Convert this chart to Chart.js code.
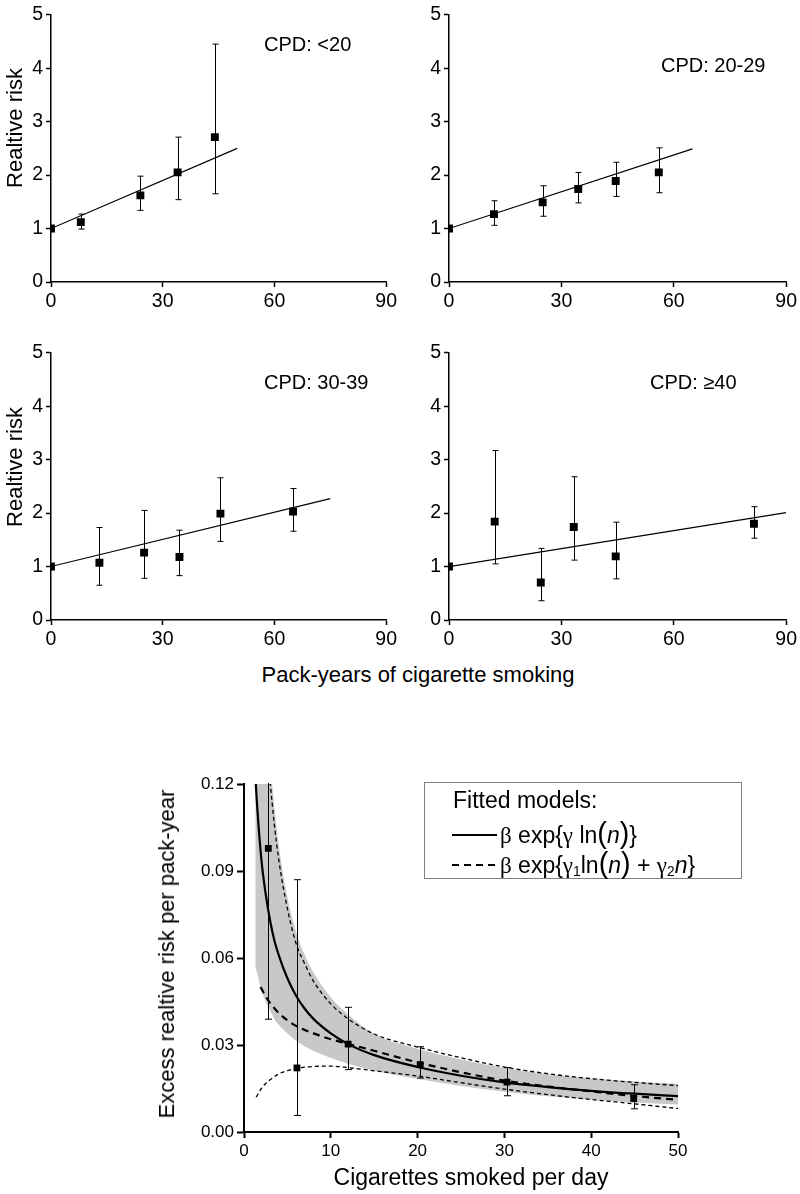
<!DOCTYPE html>
<html>
<head>
<meta charset="utf-8">
<title>Relative risk by pack-years and cigarettes per day</title>
<script src="https://cdn.jsdelivr.net/npm/chart.js"></script>
<style>
  body { margin: 0; background: #fff; }
  #page { position: relative; width: 800px; height: 1194px; font-family: "Liberation Sans", Arial, sans-serif; color: #000; }
  canvas { position: absolute; }
  .lbl { position: absolute; white-space: nowrap; }
  .cpd { font-size: 20px; line-height: 20px; }
  .vtitle { transform: translate(-50%, -50%) rotate(-90deg); }
  .htitle { transform: translate(-50%, -50%); }
  .gr { font-family: "Liberation Serif", "DejaVu Serif", serif; }
  .par { font-size: 1.25em; line-height: 0; }
  #legend { position: absolute; left: 424px; top: 782px; width: 316px; height: 95px; border: 1.5px solid #808080; background: #fff; font-size: 23px; }
  #legend .row { position: absolute; white-space: nowrap; line-height: 23px; }
  .swatch { position: absolute; height: 2px; width: 45px; background: #000; }
  .swatch.dash { background: repeating-linear-gradient(to right, #000 0 7px, transparent 7px 12px); }
  sub { font-size: 0.6em; vertical-align: -0.25em; line-height: 0; }
</style>
</head>
<body>
<div id="page">
  <canvas id="p1" width="400" height="310" style="left:0;top:0"></canvas>
  <canvas id="p2" width="400" height="310" style="left:400px;top:0"></canvas>
  <canvas id="p3" width="400" height="310" style="left:0;top:338px"></canvas>
  <canvas id="p4" width="400" height="310" style="left:400px;top:338px"></canvas>
  <canvas id="bottom" width="800" height="434" style="left:0;top:760px"></canvas>

  <div class="lbl cpd" id="t1" style="left:264px;top:34px"></div>
  <div class="lbl cpd" id="t2" style="left:661px;top:55px"></div>
  <div class="lbl cpd" id="t3" style="left:264px;top:372px"></div>
  <div class="lbl cpd" id="t4" style="left:650px;top:372px"></div>

  <div class="lbl vtitle" style="left:15px;top:128px;font-size:22px">Realtive risk</div>
  <div class="lbl vtitle" style="left:15px;top:467px;font-size:22px">Realtive risk</div>
  <div class="lbl htitle" style="left:418px;top:675px;font-size:22px">Pack-years of cigarette smoking</div>

  <div class="lbl vtitle" style="left:167px;top:954px;font-size:22px">Excess realtive risk per pack-year</div>
  <div class="lbl htitle" style="left:471px;top:1177px;font-size:23px">Cigarettes smoked per day</div>

  <div id="legend">
    <div class="row" style="left:28px;top:6px">Fitted models:</div>
    <span class="swatch" style="left:27px;top:51px"></span>
    <div class="row" style="left:75px;top:41px"><span class="gr">β</span> exp{<span class="gr">γ</span> ln<span class="par">(</span><i>n</i><span class="par">)</span>}</div>
    <span class="swatch dash" style="left:27px;top:81px"></span>
    <div class="row" style="left:75px;top:71px"><span class="gr">β</span> exp{<span class="gr">γ</span><sub>1</sub>ln<span class="par">(</span><i>n</i><span class="par">)</span> + <span class="gr">γ</span><sub>2</sub><i>n</i>}</div>
  </div>
</div>

<script>
// ---- top panels: relative risk vs pack-years ----
const cpdLabels = ['CPD: <20', 'CPD: 20-29', 'CPD: 30-39', 'CPD: ≥40'];
const packYearTicks = [0, 30, 60, 90];
const rrTicks = [0, 1, 2, 3, 4, 5];

const py1 = [0, 8, 24, 34, 44];
const rr1 = [1, 1.12, 1.62, 2.05, 2.71];
const rr1Lo = [null, 0.99, 1.34, 1.54, 1.65];
const rr1Hi = [null, 1.27, 1.98, 2.71, 4.45];
const fit1X = [0, 50];
const fit1Y = [1, 2.5];

const py2 = [0, 12, 25, 34.5, 44.5, 56];
const rr2 = [1, 1.27, 1.49, 1.74, 1.89, 2.05];
const rr2Lo = [null, 1.06, 1.23, 1.48, 1.60, 1.67];
const rr2Hi = [null, 1.52, 1.80, 2.05, 2.24, 2.51];
const fit2X = [0, 65];
const fit2Y = [1, 2.49];

const py3 = [0, 13, 25, 34.5, 45.5, 65];
const rr3 = [1, 1.07, 1.26, 1.18, 1.99, 2.03];
const rr3Lo = [null, 0.65, 0.78, 0.83, 1.47, 1.66];
const rr3Hi = [null, 1.73, 2.05, 1.68, 2.66, 2.46];
const fit3X = [0, 75];
const fit3Y = [1, 2.27];

const py4 = [0, 12.2, 24.5, 33.3, 44.5, 81.4];
const rr4 = [1, 1.84, 0.70, 1.74, 1.19, 1.80];
const rr4Lo = [null, 1.05, 0.36, 1.12, 0.77, 1.53];
const rr4Hi = [null, 3.17, 1.34, 2.68, 1.83, 2.12];
const fit4X = [0, 90];
const fit4Y = [1, 2.01];

// ---- bottom panel: excess relative risk per pack-year vs cigarettes/day ----
const cigTicks = [0, 10, 20, 30, 40, 50];
const errTicks = [0, 0.03, 0.06, 0.09, 0.12];
const cigPts = [2.8, 6.1, 12.0, 20.3, 30.3, 44.9];
const errPts = [0.0978, 0.0221, 0.0303, 0.0232, 0.0172, 0.0115];
const errPtsLo = [0.0389, 0.0057, 0.0215, 0.0186, 0.0125, 0.0080];
const errPtsHi = [0.15, 0.0870, 0.0430, 0.0294, 0.0222, 0.0163];

// model 1 curve and its grey band
const powN = [1.3, 1.5, 2, 2.5, 3, 3.5, 4, 5, 6, 7, 8, 10, 12, 15, 20, 25, 30, 35, 40, 45, 50];
const powFit = [0.123, 0.113, 0.094, 0.082, 0.073, 0.066, 0.061, 0.053, 0.047, 0.0425, 0.039, 0.034, 0.0303, 0.0265, 0.0224, 0.0194, 0.0171, 0.0155, 0.0142, 0.0132, 0.0124];
const bandHi = [0.20, 0.19, 0.165, 0.145, 0.128, 0.112, 0.099, 0.081, 0.069, 0.061, 0.055, 0.0465, 0.0405, 0.0338, 0.0287, 0.0250, 0.0221, 0.0200, 0.0185, 0.0174, 0.0166];
const bandLo = [0.057, 0.055, 0.049, 0.045, 0.042, 0.039, 0.037, 0.034, 0.0315, 0.0295, 0.028, 0.0255, 0.0235, 0.0211, 0.0183, 0.0159, 0.0139, 0.0123, 0.0111, 0.0102, 0.0095];

// model 2 curve and its dotted limits
const quadN = [1.9, 2.5, 3, 3.5, 4, 5, 6, 7, 8, 10, 12, 15, 20, 25, 30, 35, 40, 45, 50];
const quadFit = [0.0500, 0.0468, 0.0445, 0.0427, 0.0410, 0.0385, 0.0366, 0.0352, 0.0340, 0.0320, 0.0304, 0.0280, 0.0240, 0.0206, 0.0177, 0.0157, 0.0140, 0.0124, 0.0111];
const quadUpN = [2.8, 3, 3.5, 4, 5, 6, 7, 8, 10, 12, 15, 20, 25, 30, 35, 40, 45, 50];
const quadUp = [0.128, 0.121, 0.106, 0.094, 0.077, 0.065, 0.058, 0.052, 0.0442, 0.0390, 0.0338, 0.0293, 0.0256, 0.0224, 0.0201, 0.0184, 0.0171, 0.0160];
const quadLoN = [1.4, 2, 2.5, 3, 4, 5, 6, 8, 10, 12, 15, 20, 25, 30, 35, 40, 45, 50];
const quadLo = [0.0120, 0.0150, 0.0167, 0.0180, 0.0200, 0.0212, 0.0219, 0.0226, 0.0227, 0.0222, 0.0211, 0.0193, 0.0170, 0.0148, 0.0129, 0.0112, 0.0097, 0.0081];

Chart.defaults.font.family = "'Liberation Sans', Arial, sans-serif";
Chart.defaults.color = '#000';

function pts(xs, ys) {
    return xs.map((v, i) => ({x: v, y: ys[i]}));
}

// vertical error bars with caps, read from dataset.errLo / dataset.errHi
const errorBars = {
    id: 'errorBars',
    afterDatasetsDraw(chart) {
        const {ctx, chartArea: a, scales: {x, y}} = chart;
        ctx.save();
        ctx.beginPath();
        ctx.rect(a.left, a.top - 1, a.width, a.height + 1);
        ctx.clip();
        ctx.strokeStyle = '#000';
        ctx.lineWidth = 1;
        chart.data.datasets.forEach(ds => {
            if (!ds.errLo) return;
            ds.data.forEach((p, i) => {
                if (ds.errLo[i] == null) return;
                const px = Math.round(x.getPixelForValue(p.x)) + 0.5;
                const yl = y.getPixelForValue(ds.errLo[i]);
                const yh = y.getPixelForValue(ds.errHi[i]);
                const w = ds.capWidth / 2;
                ctx.beginPath();
                ctx.moveTo(px, yl); ctx.lineTo(px, yh);
                ctx.moveTo(px - w, yl); ctx.lineTo(px + w, yl);
                ctx.moveTo(px - w, yh); ctx.lineTo(px + w, yh);
                ctx.stroke();
            });
        });
        ctx.restore();
    }
};

function axis(min, max, tickList, size, fitFn, extra) {
    return Object.assign({
        type: 'linear',
        min: min,
        max: max,
        afterBuildTicks: s => { s.ticks = tickList.map(v => ({value: v})); },
        ticks: {font: {size: size}, color: '#000', padding: 3},
        grid: {drawOnChartArea: false, tickLength: 5, tickColor: '#000', tickWidth: 1.5},
        border: {color: '#000', width: 1.5},
        afterFit: fitFn
    }, extra || {});
}

function panel(id, xs, ys, lo, hi, fx, fy, yWidth) {
    return new Chart(document.getElementById(id), {
        type: 'line',
        data: {
            datasets: [{
                data: pts(xs, ys),
                showLine: false,
                pointStyle: 'rect',
                pointRadius: 5.6,
                pointBackgroundColor: '#000',
                pointBorderWidth: 0,
                errLo: lo,
                errHi: hi,
                capWidth: 6
            }, {
                data: pts(fx, fy),
                borderColor: '#000',
                borderWidth: 1.2,
                pointRadius: 0
            }]
        },
        options: {
            responsive: false,
            animation: false,
            devicePixelRatio: 1,
            layout: {padding: {top: 11, left: 0, right: 12, bottom: 0}},
            plugins: {legend: {display: false}, tooltip: {enabled: false}},
            scales: {
                x: axis(0, 90, packYearTicks, 19.5, s => { s.height = 28; }),
                y: axis(0, 5, rrTicks, 19.5, s => { s.width = yWidth; })
            }
        },
        plugins: [errorBars]
    });
}

panel('p1', py1, rr1, rr1Lo, rr1Hi, fit1X, fit1Y, 51);
panel('p2', py2, rr2, rr2Lo, rr2Hi, fit2X, fit2Y, 49);
panel('p3', py3, rr3, rr3Lo, rr3Hi, fit3X, fit3Y, 51);
panel('p4', py4, rr4, rr4Lo, rr4Hi, fit4X, fit4Y, 49);

['t1', 't2', 't3', 't4'].forEach((id, i) => {
    document.getElementById(id).textContent = cpdLabels[i];
});

const curve = {pointRadius: 0, borderColor: '#000', cubicInterpolationMode: 'monotone', clip: 0, fill: false};

new Chart(document.getElementById('bottom'), {
    type: 'line',
    data: {
        datasets: [
            {
                data: pts(cigPts, errPts),
                showLine: false,
                pointStyle: 'rect',
                pointRadius: 4.8,
                pointBackgroundColor: '#000',
                pointBorderWidth: 0,
                errLo: errPtsLo,
                errHi: errPtsHi,
                capWidth: 7
            },
            Object.assign({data: pts(powN, powFit), borderWidth: 2.2}, curve),
            Object.assign({data: pts(quadN, quadFit), borderWidth: 2.2, borderDash: [7, 5]}, curve),
            Object.assign({data: pts(quadUpN, quadUp), borderWidth: 1.3, borderDash: [4, 3]}, curve),
            Object.assign({data: pts(quadLoN, quadLo), borderWidth: 1.3, borderDash: [4, 3]}, curve),
            Object.assign({}, curve, {data: pts(powN, bandHi), borderWidth: 0, borderColor: 'rgba(0,0,0,0)', backgroundColor: '#c8c8c8', fill: '+1'}),
            Object.assign({}, curve, {data: pts(powN, bandLo), borderWidth: 0, borderColor: 'rgba(0,0,0,0)'})
        ]
    },
    options: {
        responsive: false,
        animation: false,
        devicePixelRatio: 1,
        layout: {padding: {top: 24, left: 0, right: 122, bottom: 0}},
        plugins: {legend: {display: false}, tooltip: {enabled: false}},
        scales: {
            x: axis(0, 50, cigTicks, 17, s => { s.height = 62; }, {
                grid: {drawOnChartArea: false, tickLength: 6, tickColor: '#000', tickWidth: 2},
                border: {color: '#000', width: 2}
            }),
            y: axis(0, 0.12, errTicks, 17, s => { s.width = 244; }, {
                ticks: {font: {size: 17}, color: '#000', padding: 3, callback: v => v.toFixed(2)},
                grid: {drawOnChartArea: false, tickLength: 7, tickColor: '#000', tickWidth: 2},
                border: {color: '#000', width: 2}
            })
        }
    },
    plugins: [errorBars]
});
</script>
</body>
</html>
